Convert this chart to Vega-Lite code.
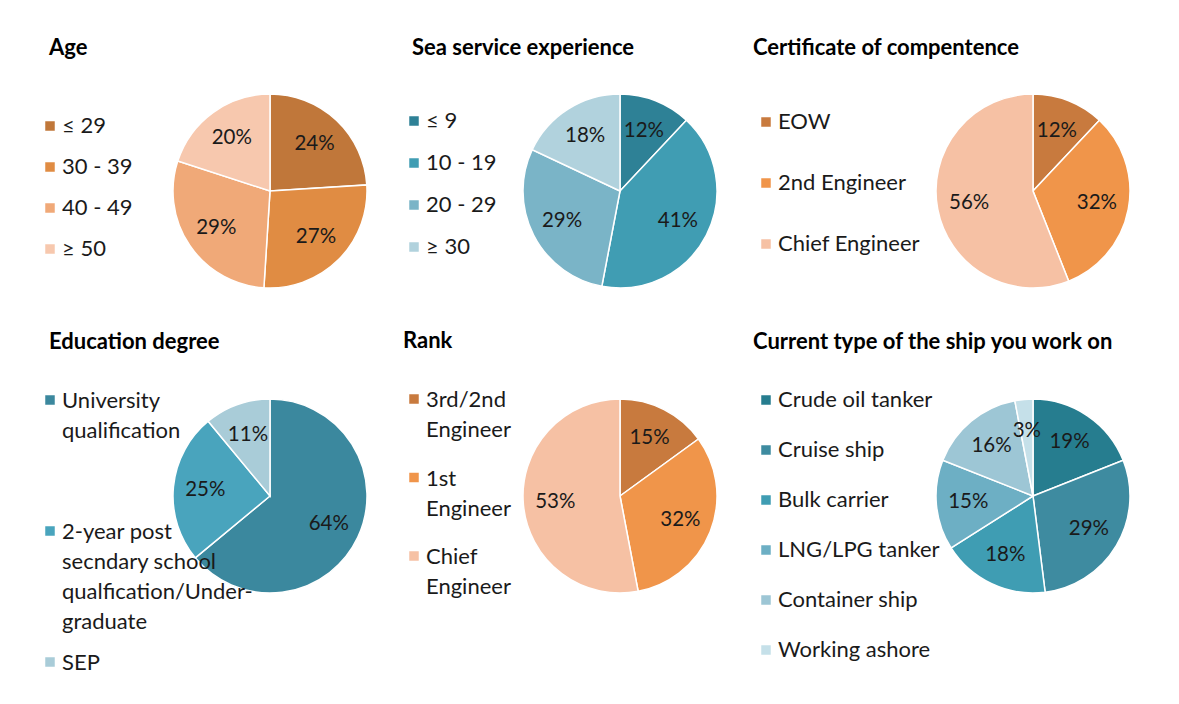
{
  "$schema": "https://vega.github.io/schema/vega-lite/v6.json",
  "padding": {"left": 39, "top": 37, "right": 0, "bottom": 0},
  "background": "white",
  "config": {
    "view": {"stroke": null},
    "title": {"font": "Lato", "fontSize": 22, "fontWeight": "bold", "color": "#000000", "anchor": "start", "frame": "bounds", "baseline": "alphabetic"},
    "legend": {"orient": "none", "title": null, "symbolType": "square", "symbolSize": 121, "symbolStrokeWidth": 0, "labelFont": "Lato", "labelFontSize": 22, "labelColor": "#1a1a1a", "labelOffset": 1, "padding": 0, "labelLimit": 400},
    "arc": {"stroke": "white", "strokeWidth": 1.5},
    "text": {"font": "Lato", "fontSize": 20.5, "color": "#1a1a1a"}
  },
  "datasets": {
    "age": [
      {"k": "≤ 29", "v": 0.24, "o": 1},
      {"k": "30 - 39", "v": 0.27, "o": 2},
      {"k": "40 - 49", "v": 0.29, "o": 3},
      {"k": "≥ 50", "v": 0.20, "o": 4}
    ],
    "sea": [
      {"k": "≤ 9", "v": 0.12, "o": 1},
      {"k": "10 - 19", "v": 0.41, "o": 2},
      {"k": "20 - 29", "v": 0.29, "o": 3},
      {"k": "≥ 30", "v": 0.18, "o": 4}
    ],
    "cert": [
      {"k": "EOW", "v": 0.12, "o": 1},
      {"k": "2nd Engineer", "v": 0.32, "o": 2},
      {"k": "Chief Engineer", "v": 0.56, "o": 3}
    ],
    "edu": [
      {"k": "University\nqualification", "v": 0.64, "o": 1},
      {"k": "2-year post\nsecndary school\nqualfication/Under-\ngraduate", "v": 0.25, "o": 2},
      {"k": "SEP", "v": 0.11, "o": 3}
    ],
    "rank": [
      {"k": "3rd/2nd\nEngineer", "v": 0.15, "o": 1},
      {"k": "1st\nEngineer", "v": 0.32, "o": 2},
      {"k": "Chief\nEngineer", "v": 0.53, "o": 3}
    ],
    "ship": [
      {"k": "Crude oil tanker", "v": 0.19, "o": 1},
      {"k": "Cruise ship", "v": 0.29, "o": 2},
      {"k": "Bulk carrier", "v": 0.18, "o": 3},
      {"k": "LNG/LPG tanker", "v": 0.15, "o": 4},
      {"k": "Container ship", "v": 0.16, "o": 5},
      {"k": "Working ashore", "v": 0.03, "o": 6}
    ]
  },
  "resolve": {"scale": {"color": "independent", "theta": "independent"}},
  "spacing": 39,
  "vconcat": [
    {
      "resolve": {"scale": {"color": "independent", "theta": "independent"}},
      "spacing": 33,
      "hconcat": [
        {
          "width": 194, "height": 194,
          "title": {"text": "Age", "offset": 31, "dx": 10},
          "data": {"name": "age"},
          "encoding": {
            "theta": {"field": "v", "type": "quantitative", "stack": true},
            "order": {"field": "o", "type": "quantitative"}
          },
          "layer": [
            {"mark": {"type": "arc", "outerRadius": 97},
             "encoding": {"color": {"field": "k", "type": "nominal",
               "scale": {"domain": ["≤ 29", "30 - 39", "40 - 49", "≥ 50"], "range": ["#C0773A", "#E08C43", "#F0A978", "#F7C8AE"]},
               "legend": {"legendX": -134, "legendY": 21, "rowPadding": 19}}}},
            {"mark": {"type": "text", "radius": 65}, "encoding": {"text": {"field": "v", "type": "quantitative", "format": ".0%"}}}
          ]
        },
        {
          "width": 194, "height": 194,
          "title": {"text": "Sea service experience", "offset": 31, "dx": 9},
          "data": {"name": "sea"},
          "encoding": {
            "theta": {"field": "v", "type": "quantitative", "stack": true},
            "order": {"field": "o", "type": "quantitative"}
          },
          "layer": [
            {"mark": {"type": "arc", "outerRadius": 97},
             "encoding": {"color": {"field": "k", "type": "nominal",
               "scale": {"domain": ["≤ 9", "10 - 19", "20 - 29", "≥ 30"], "range": ["#2E8196", "#409DB3", "#7AB4C7", "#B1D2DD"]},
               "legend": {"legendX": -120, "legendY": 16, "rowPadding": 20}}}},
            {"mark": {"type": "text", "radius": 65}, "encoding": {"text": {"field": "v", "type": "quantitative", "format": ".0%"}}}
          ]
        },
        {
          "width": 194, "height": 194,
          "title": {"text": "Certificate of compentence", "offset": 31, "dx": -2},
          "data": {"name": "cert"},
          "encoding": {
            "theta": {"field": "v", "type": "quantitative", "stack": true},
            "order": {"field": "o", "type": "quantitative"}
          },
          "layer": [
            {"mark": {"type": "arc", "outerRadius": 97},
             "encoding": {"color": {"field": "k", "type": "nominal",
               "scale": {"domain": ["EOW", "2nd Engineer", "Chief Engineer"], "range": ["#C87A3E", "#F0954A", "#F6C1A4"]},
               "legend": {"legendX": -181, "legendY": 17, "rowPadding": 39}}}},
            {"mark": {"type": "text", "radius": 65}, "encoding": {"text": {"field": "v", "type": "quantitative", "format": ".0%"}}}
          ]
        }
      ]
    },
    {
      "resolve": {"scale": {"color": "independent", "theta": "independent"}},
      "spacing": 33,
      "hconcat": [
        {
          "width": 194, "height": 194,
          "title": {"text": "Education degree", "offset": 35, "dx": 10},
          "data": {"name": "edu"},
          "encoding": {
            "theta": {"field": "v", "type": "quantitative", "stack": true},
            "order": {"field": "o", "type": "quantitative"}
          },
          "layer": [
            {"mark": {"type": "arc", "outerRadius": 97},
             "encoding": {"color": {"field": "k", "type": "nominal",
               "scale": {"domain": ["University\nqualification", "2-year post\nsecndary school\nqualfication/Under-\ngraduate", "SEP"], "range": ["#3B889E", "#49A4BD", "#A9CCD8"]},
               "legend": {"legendX": -134, "legendY": -10, "rowPadding": 18, "gridAlign": "all", "labelExpr": "split(datum.label, '\\n')", "labelBaseline": "top",
                 "encoding": {"labels": {"lineHeight": {"value": 30}, "dy": {"value": -9}}}}}}},
            {"mark": {"type": "text", "radius": 65}, "encoding": {"text": {"field": "v", "type": "quantitative", "format": ".0%"}}}
          ]
        },
        {
          "width": 194, "height": 194,
          "title": {"text": "Rank", "offset": 35, "dx": 0},
          "data": {"name": "rank"},
          "encoding": {
            "theta": {"field": "v", "type": "quantitative", "stack": true},
            "order": {"field": "o", "type": "quantitative"}
          },
          "layer": [
            {"mark": {"type": "arc", "outerRadius": 97},
             "encoding": {"color": {"field": "k", "type": "nominal",
               "scale": {"domain": ["3rd/2nd\nEngineer", "1st\nEngineer", "Chief\nEngineer"], "range": ["#C87A3E", "#F0954A", "#F6C1A4"]},
               "legend": {"legendX": -120, "legendY": -11, "rowPadding": 25.5, "labelExpr": "split(datum.label, '\\n')", "labelBaseline": "top",
                 "encoding": {"labels": {"lineHeight": {"value": 30}, "dy": {"value": -9}}}}}}},
            {"mark": {"type": "text", "radius": 65}, "encoding": {"text": {"field": "v", "type": "quantitative", "format": ".0%"}}}
          ]
        },
        {
          "width": 194, "height": 194,
          "title": {"text": "Current  type of the ship you work on", "offset": 35, "dx": -2},
          "data": {"name": "ship"},
          "encoding": {
            "theta": {"field": "v", "type": "quantitative", "stack": true},
            "order": {"field": "o", "type": "quantitative"}
          },
          "layer": [
            {"mark": {"type": "arc", "outerRadius": 97},
             "encoding": {"color": {"field": "k", "type": "nominal",
               "scale": {"domain": ["Crude oil tanker", "Cruise ship", "Bulk carrier", "LNG/LPG tanker", "Container ship", "Working ashore"], "range": ["#267D8F", "#3E8BA0", "#3F9DB3", "#6DAFC4", "#9DC6D5", "#C5E0E9"]},
               "legend": {"legendX": -181, "legendY": -10, "rowPadding": 28}}}},
            {"mark": {"type": "text", "radius": 65}, "encoding": {"text": {"field": "v", "type": "quantitative", "format": ".0%"}}}
          ]
        }
      ]
    }
  ]
}
